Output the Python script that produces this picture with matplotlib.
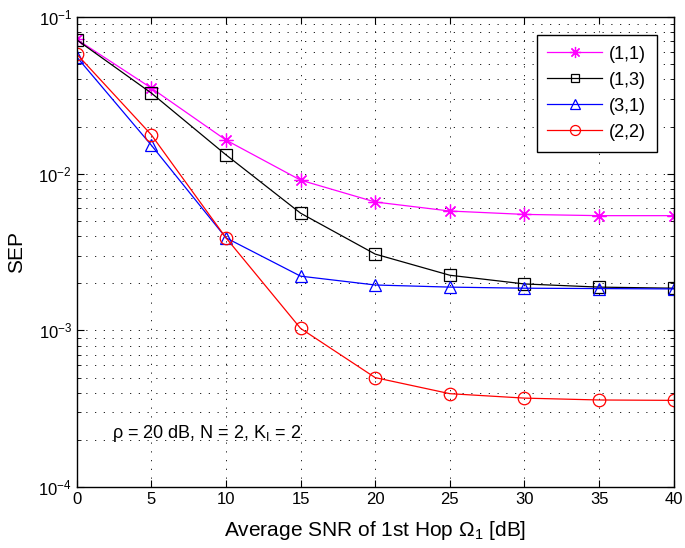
import numpy as np
import matplotlib.pyplot as plt
import matplotlib

matplotlib.rc('font', family='Liberation Sans', size=12)
matplotlib.rcParams['mathtext.fontset'] = 'custom'
matplotlib.rcParams['mathtext.rm'] = 'Liberation Sans'
matplotlib.rcParams['mathtext.it'] = 'Liberation Sans'

snr = [0, 5, 10, 15, 20, 25, 30, 35, 40]
sep_11 = [0.072, 0.0352, 0.0164, 0.0091, 0.0066, 0.00578, 0.0055, 0.0054, 0.0054]
sep_13 = [0.0715, 0.0327, 0.0132, 0.0056, 0.00307, 0.00225, 0.00198, 0.00189, 0.00186]
sep_31 = [0.0556, 0.0152, 0.0039, 0.00222, 0.00195, 0.00189, 0.00186, 0.00185, 0.00184]
sep_22 = [0.058, 0.0177, 0.0039, 0.00103, 0.00050, 0.000395, 0.00037, 0.00036, 0.000358]

fig = plt.figure(figsize=(6.85, 5.48), dpi=100)
ax = fig.add_axes([0.112, 0.111, 0.8715, 0.858])

ax.semilogy(snr, sep_11, '-', marker=(8, 2, 0), color='magenta', lw=0.9, ms=10, mew=0.9, label='(1,1)')
ax.semilogy(snr, sep_13, '-s', color='black', lw=0.9, ms=8, mew=0.9, mfc='none', label='(1,3)')
ax.semilogy(snr, sep_31, '-^', color='blue', lw=0.9, ms=9, mew=0.9, mfc='none', label='(3,1)')
ax.semilogy(snr, sep_22, '-o', color='red', lw=0.9, ms=9, mew=0.9, mfc='none', label='(2,2)')

ax.set_xlim(0, 40)
ax.set_ylim(1e-4, 1e-1)
ax.set_xticks(np.arange(0, 41, 5))
ax.tick_params(which='both', direction='in', top=True, right=True, labelsize=12)
ax.tick_params(which='major', length=5)
ax.tick_params(which='minor', length=3)
ax.grid(which='major', axis='both', color='black', linestyle=(0, (1.5, 9)), linewidth=0.6)
ax.grid(which='minor', axis='y', color='black', linestyle=(0, (1.5, 9)), linewidth=0.6)
for s in ax.spines.values():
    s.set_linewidth(1.0)

ax.set_xlabel(r'Average SNR of 1st Hop $\Omega_1$ [dB]', fontsize=15, labelpad=8.5)
ax.set_ylabel('SEP', fontsize=15, labelpad=8.5)
ax.text(2.35, 2.2e-4, r'$\rho$ = 20 dB, N = 2, K$_\mathrm{I}$ = 2', fontsize=13, va='center')

leg = ax.legend(loc='upper right', bbox_to_anchor=(0.9715, 0.962), borderaxespad=0,
                fancybox=False, edgecolor='black', framealpha=1, fontsize=13,
                handlelength=3.0, labelspacing=0.5, borderpad=0.6, markerscale=0.8,
                handletextpad=0.4)
leg.get_frame().set_linewidth(1.0)

fig.savefig('out.png', dpi=100)
